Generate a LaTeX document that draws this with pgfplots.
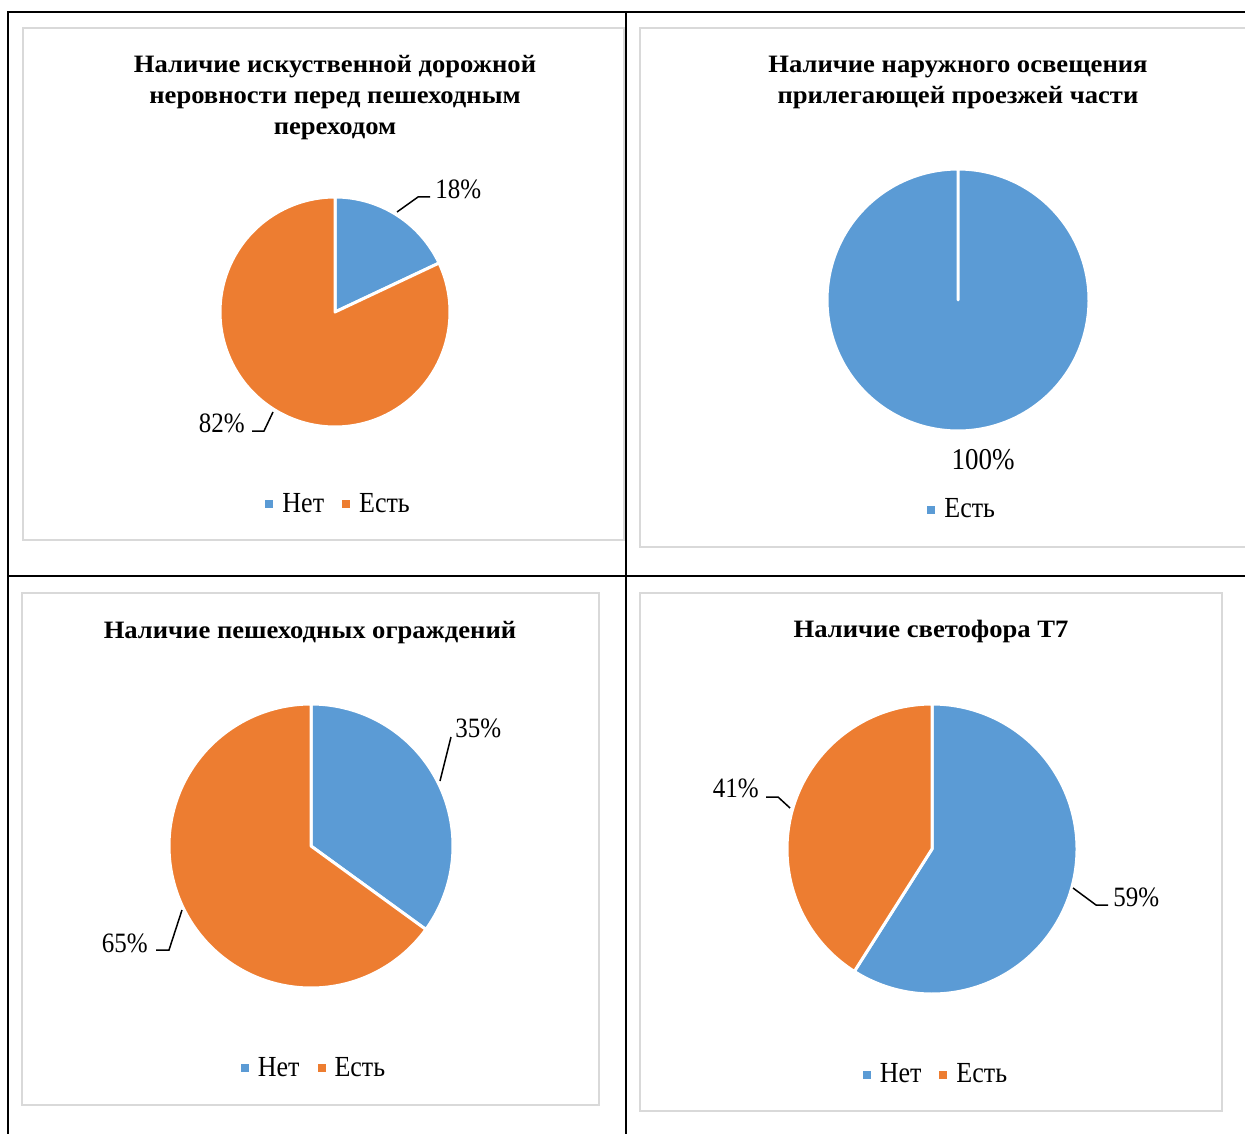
\documentclass[border=0pt]{standalone}
\usepackage{graphicx}
\usepackage{pgfplots}
\pgfplotsset{compat=1.18}
\usepackage{fontspec}
\setmainfont{Liberation Serif}
\definecolor{pblue}{HTML}{5B9BD5}
\definecolor{porange}{HTML}{ED7D31}
\definecolor{framegray}{HTML}{D9D9D9}
\newcommand\lblfont{\fontsize{12.5}{15}\selectfont}
\newcommand\legfont{\fontsize{13}{15}\selectfont}
\newcommand\ttlfont{\fontsize{13.3}{16}\selectfont\bfseries}
\newcommand\tall[1]{\scalebox{1}[1.12]{#1}}
\newcommand\ttl[1]{\scalebox{1}[0.94]{#1}}
\pgfplotsset{
  pie/.style={hide axis, scale only axis, xmin=-1, xmax=1, ymin=-1, ymax=1,
    width=#1, height=#1, anchor=center, clip=false,
    legend style={draw=none, fill=none, legend columns=-1, font=\legfont,
      anchor=center, /tikz/every even column/.append style={column sep=7pt}},
    legend image code/.code={\fill[##1,draw=none] (0pt,-2pt) rectangle (4pt,2pt);
      \path[draw=none,fill=none] (0pt,0pt) -- (6.5pt,0pt);}},
}
% one pie slice, angles in degrees, counter-clockwise from the x axis
\newcommand\slice[3]{\addplot[fill=#3, draw=white, line width=1.5pt, line join=round,
  domain=#1:#2, samples=160] ({cos(x)},{sin(x)}) -- (axis cs:0,0) -- cycle;}
\begin{document}
\begin{tikzpicture}[x=0.5pt,y=0.5pt]
\path[use as bounding box] (0,0) rectangle (1245,-1133);
\clip (0,0) rectangle (1245,-1133);
% chart frames
\begin{scope}[draw=framegray, line width=1pt]
\draw (23,-28) rectangle (624,-540);
\draw (640,-28) rectangle (1262,-547);
\draw (22,-593) rectangle (599,-1105);
\draw (640,-593) rectangle (1222,-1111);
\end{scope}
% table lines
\draw[line width=1pt] (8,-1140) -- (8,-12) -- (1250,-12);
\draw[line width=1pt] (626,-12) -- (626,-1140);
\draw[line width=1pt] (8,-576) -- (1250,-576);

% ---------- top left: 18 / 82
\node[font=\ttlfont, anchor=base] at (335,-73) {\ttl{Наличие искуственной дорожной}};
\node[font=\ttlfont, anchor=base] at (335,-104) {\ttl{неровности перед пешеходным}};
\node[font=\ttlfont, anchor=base] at (335,-135) {\ttl{переходом}};
\begin{axis}[pie=115pt, at={(167.5pt,-156pt)},
  legend style={at={(0.52,-0.335)}}]
\slice{90-3.6*18}{90}{pblue}
\addlegendentry{\tall{Нет}}
\slice{-270}{90-3.6*18}{porange}
\addlegendentry{\tall{Есть}}
\end{axis}
\draw[line width=0.75pt] (397,-212) -- (418,-197) -- (430,-197);
\node[font=\lblfont, anchor=base west, inner sep=0pt] at (435,-199) {\tall{18\%}};
\draw[line width=0.75pt] (273,-412) -- (264,-431) -- (252,-431);
\node[font=\lblfont, anchor=base east, inner sep=0pt] at (245,-432) {\tall{82\%}};

% ---------- top right: 100
\node[font=\ttlfont, anchor=base] at (958,-73) {\ttl{Наличие наружного освещения}};
\node[font=\ttlfont, anchor=base] at (958,-104) {\ttl{прилегающей проезжей части}};
\begin{axis}[pie=131pt, at={(479pt,-150pt)},
  legend style={at={(0.52,-0.30)}}]
\slice{-270}{90}{pblue}
\addlegendentry{\tall{Есть}}
\end{axis}
\node[font=\fontsize{13.5}{16}\selectfont, anchor=base, inner sep=0pt] at (983,-469) {\tall{100\%}};

% ---------- bottom left: 35 / 65
\node[font=\ttlfont, anchor=base] at (310,-638) {\ttl{Наличие пешеходных ограждений}};
\begin{axis}[pie=142pt, at={(155.5pt,-423pt)},
  legend style={at={(0.514,-0.282)}}]
\slice{90-3.6*35}{90}{pblue}
\addlegendentry{\tall{Нет}}
\slice{-270}{90-3.6*35}{porange}
\addlegendentry{\tall{Есть}}
\end{axis}
\draw[line width=0.75pt] (440,-781) -- (451,-737);
\node[font=\lblfont, anchor=base west, inner sep=0pt] at (455,-737) {\tall{35\%}};
\draw[line width=0.75pt] (182,-910) -- (169,-950) -- (156,-950);
\node[font=\lblfont, anchor=base east, inner sep=0pt] at (148,-952) {\tall{65\%}};

% ---------- bottom right: 59 / 41
\node[font=\ttlfont, anchor=base] at (931,-637) {\ttl{Наличие светофора Т7}};
\begin{axis}[pie=145pt, at={(466pt,-424.5pt)},
  legend style={at={(0.517,-0.279)}}]
\slice{90-3.6*59}{90}{pblue}
\addlegendentry{\tall{Нет}}
\slice{-270}{90-3.6*59}{porange}
\addlegendentry{\tall{Есть}}
\end{axis}
\draw[line width=0.75pt] (1073,-888) -- (1096,-905) -- (1108,-905);
\node[font=\lblfont, anchor=base west, inner sep=0pt] at (1113,-906) {\tall{59\%}};
\draw[line width=0.75pt] (790,-808) -- (778,-797) -- (766,-797);
\node[font=\lblfont, anchor=base east, inner sep=0pt] at (759,-797) {\tall{41\%}};
\end{tikzpicture}
\end{document}
